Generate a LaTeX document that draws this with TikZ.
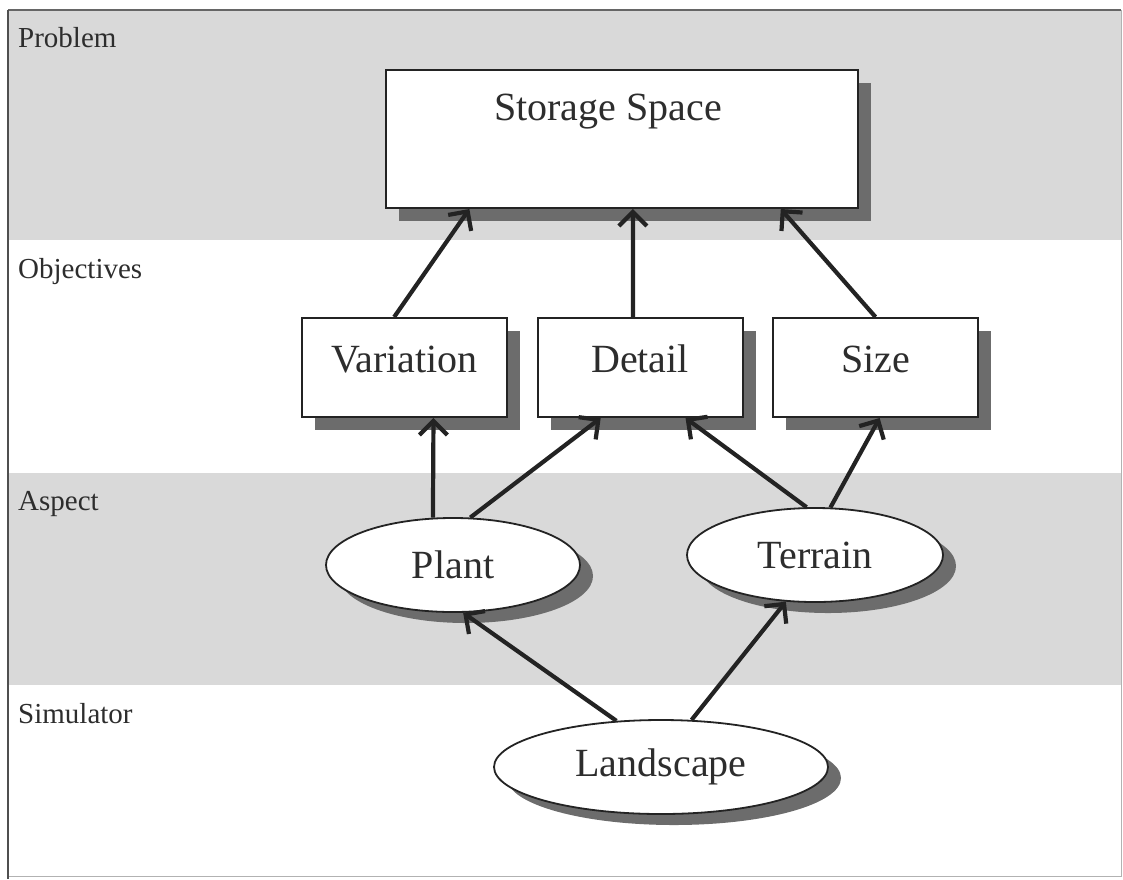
\documentclass[tikz,border=0pt]{standalone}
\usepackage{fontspec}
\setmainfont{Liberation Serif}
\usetikzlibrary{arrows.meta,shapes.geometric,shadows,calc}
\definecolor{bandgray}{RGB}{217,217,217}
\definecolor{shadegray}{RGB}{108,108,108}
\definecolor{txt}{RGB}{45,45,45}
\definecolor{edge}{RGB}{35,35,35}
\begin{document}
\begin{tikzpicture}[x=1pt,y=-1pt,
  band/.style={fill=bandgray,draw=none},
  lab/.style={anchor=base west,font=\fontsize{29}{34}\selectfont,text=txt,inner sep=0pt},
  boxnode/.style={draw=edge,line width=2pt,fill=white,inner sep=0pt,
    font=\fontsize{40}{48}\selectfont,text=txt,
    drop shadow={shadow xshift=13pt,shadow yshift=-13pt,fill=shadegray,opacity=1}},
  ellnode/.style={ellipse,draw=edge,line width=1.8pt,fill=white,inner sep=0pt,
    font=\fontsize{40}{48}\selectfont,text=txt,
    drop shadow={shadow xshift=13pt,shadow yshift=-11pt,fill=shadegray,opacity=1}},
  arr/.style={draw=edge,line width=4.2pt,-{Straight Barb[length=14pt,width=28pt]}}
]
\useasboundingbox (0,0) rectangle (1123,879);
% bands
\fill[bandgray] (8,10) rectangle (1121,240);
\fill[bandgray] (8,473) rectangle (1121,685);
% frame
\draw[gray!60,line width=1pt] (1121,10) -- (1121,876) -- (8,876);
\draw[gray!80!black,line width=2pt] (8,10) -- (1121,10);
\draw[edge!80,line width=2.5pt] (8,10) -- (8,879);
% row labels
\node[lab] (lp) at (18,47) {Problem};
\node[lab] (lo) at (18,278) {Objectives};
\node[lab] (la) at (18,510) {Aspect};
\node[lab] (ls) at (18,723) {Simulator};
% nodes
\node[boxnode,minimum width=472pt,minimum height=138pt,text height=29pt,text depth=67pt] (store) at (622,139) {Storage Space\hspace*{28pt}};
\node[boxnode,minimum width=205pt,minimum height=99pt,text height=27pt,text depth=18pt] (var) at (404.5,367.5) {Variation};
\node[boxnode,minimum width=205pt,minimum height=99pt,text height=27pt,text depth=18pt] (det) at (640,367.5) {Detail};
\node[boxnode,minimum width=205pt,minimum height=99pt,text height=27pt,text depth=18pt] (siz) at (875.5,367.5) {Size};
\node[ellnode,minimum width=254pt,minimum height=94pt] (plant) at (453,565) {Plant};
\node[ellnode,minimum width=256pt,minimum height=94pt] (terr) at (815,555) {Terrain};
\node[ellnode,minimum width=334pt,minimum height=94pt] (land) at (661,767) {Landscape};
% connectors
\draw[arr] ($(var.north west)!0.45!(var.north east)$) -- ($(store.south west)!0.178!(store.south east)$);
\draw[arr] ($(det.north west)!0.466!(det.north east)$) -- ($(store.south west)!0.523!(store.south east)$);
\draw[arr] (siz.north) -- ($(store.south west)!0.835!(store.south east)$);
\draw[arr] (plant.113) -- ($(var.south west)!0.64!(var.south east)$);
\draw[arr] (plant.70) -- ($(det.south west)!0.31!(det.south east)$);
\draw[arr] (terr.100) -- ($(det.south west)!0.72!(det.south east)$);
\draw[arr] (terr.72) -- ($(siz.south west)!0.52!(siz.south east)$);
\draw[arr] (land.134) -- (plant.282);
\draw[arr] (land.57) -- (terr.238);
\end{tikzpicture}
\end{document}
